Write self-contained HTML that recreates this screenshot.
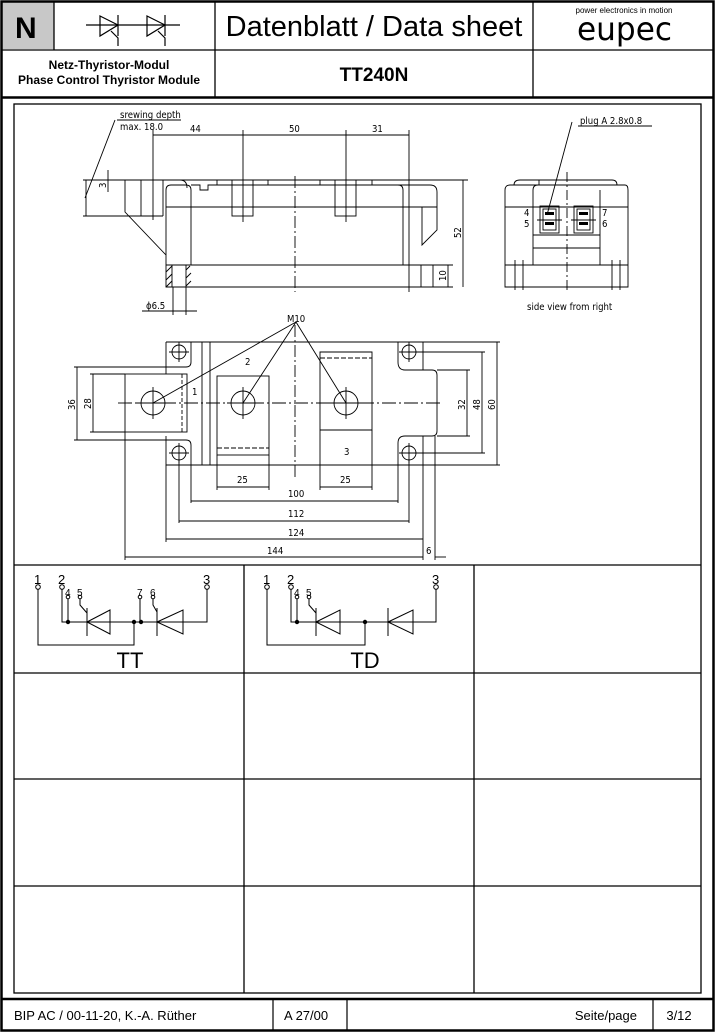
<!DOCTYPE html>
<html><head><meta charset="utf-8"><style>
html,body{margin:0;padding:0;background:#fff}
svg{display:block}
text{font-family:"Liberation Sans",sans-serif;fill:#000}
.d{font-family:"DejaVu Sans Condensed","DejaVu Sans",sans-serif;font-size:9.5px}
</style></head><body>
<svg width="715" height="1032" viewBox="0 0 715 1032" xmlns="http://www.w3.org/2000/svg">
<rect x="2" y="2" width="52" height="47" fill="#c8c8c8"/>
<rect x="1.5" y="1.5" width="712" height="1029" fill="none" stroke="#000" stroke-width="2.5"/>
<g stroke="#000" stroke-width="1.3" fill="none">
<line x1="1" y1="50" x2="714" y2="50"/>
<line x1="54" y1="1" x2="54" y2="50"/>
<line x1="215" y1="1" x2="215" y2="97"/>
<line x1="533" y1="1" x2="533" y2="97"/>
</g>
<line x1="1" y1="97.5" x2="714" y2="97.5" stroke="#000" stroke-width="2.5"/>
<text x="15" y="38" font-size="30" font-weight="bold">N</text>
<text x="374" y="36" font-size="29" text-anchor="middle">Datenblatt / Data sheet</text>
<text x="624" y="13" font-size="8" text-anchor="middle">power electronics in motion</text>
<text x="577" y="40" font-size="32" textLength="95" lengthAdjust="spacingAndGlyphs" style="font-family:'DejaVu Sans Condensed',sans-serif">eupec</text>
<text x="109" y="69" font-size="12" font-weight="bold" text-anchor="middle">Netz-Thyristor-Modul</text>
<text x="109" y="84" font-size="12" font-weight="bold" text-anchor="middle">Phase Control Thyristor Module</text>
<text x="374" y="81" font-size="19" font-weight="bold" text-anchor="middle">TT240N</text>
<g stroke="#000" stroke-width="1.2" fill="none">
<line x1="86" y1="25" x2="180" y2="25"/>
<path d="M100 16 L118 25 L100 36 Z"/><line x1="118" y1="15" x2="118" y2="36"/>
<path d="M111 31 L118 38 L118 46"/>
<path d="M147 16 L165 25 L147 36 Z"/><line x1="165" y1="15" x2="165" y2="36"/>
<path d="M158 31 L165 38 L165 46"/>
</g>
<g stroke="#000" stroke-width="1.3" fill="none">
<rect x="14" y="104" width="687" height="889"/>
<line x1="14" y1="565" x2="701" y2="565"/>
<line x1="14" y1="673" x2="701" y2="673"/>
<line x1="14" y1="779" x2="701" y2="779"/>
<line x1="14" y1="886" x2="701" y2="886"/>
<line x1="244" y1="565" x2="244" y2="993"/>
<line x1="474" y1="565" x2="474" y2="993"/>
</g>
<line x1="1" y1="999" x2="714" y2="999" stroke="#000" stroke-width="2.5"/>
<g stroke="#000" stroke-width="1.2"><line x1="273" y1="999" x2="273" y2="1031"/><line x1="347" y1="999" x2="347" y2="1031"/><line x1="653" y1="999" x2="653" y2="1031"/></g>
<text x="14" y="1020" font-size="13">BIP AC / 00-11-20, K.-A. Rüther</text>
<text x="284" y="1020" font-size="13">A 27/00</text>
<text x="637" y="1020" font-size="13" text-anchor="end">Seite/page</text>
<text x="679" y="1020" font-size="13" text-anchor="middle">3/12</text>

<g stroke="#000" stroke-width="0.9" fill="none">
<line x1="83" y1="180" x2="468" y2="180"/>
<line x1="83" y1="216" x2="125" y2="216"/>
<line x1="86" y1="180" x2="86" y2="216"/>
<path d="M125 180 V212 L166 255"/>
<path d="M125 180 H180 Q187 180 187 188"/>
<line x1="141" y1="180" x2="141" y2="216"/><line x1="163" y1="180" x2="163" y2="216"/><line x1="125" y1="216" x2="163" y2="216"/>
<path d="M166 265 V190 Q166 185 171 185 H186 Q191 185 191 190 V265"/>
<path d="M191 185 H200 V190 H208 V185 H398 Q403 185 403 190 V265"/>
<path d="M398 185 H430 Q437 185 437 192 V230 L422 245 V207"/>
<line x1="166" y1="207" x2="437" y2="207"/>
<line x1="166" y1="265" x2="453" y2="265"/>
<path d="M166 265 V287 H453"/>
<line x1="433" y1="265" x2="433" y2="287"/><line x1="421" y1="265" x2="421" y2="287"/>
<line x1="172" y1="265" x2="172" y2="287"/><line x1="186" y1="265" x2="186" y2="287"/>
<path d="M166 272 L172 266 M166 280 L172 274 M166 287 L172 281 M186 270 L190 266 M186 278 L191 273 M186 286 L191 281"/>
<path d="M217 185 V180 H268 V185"/><rect x="232" y="180" width="21" height="36"/>
<path d="M320 185 V180 H372 V185"/><rect x="335" y="180" width="21" height="36"/>
<line x1="153" y1="130" x2="153" y2="220"/>
<line x1="243" y1="130" x2="243" y2="222"/>
<line x1="346" y1="130" x2="346" y2="222"/>
<line x1="409" y1="130" x2="409" y2="292"/>
<line x1="153" y1="135" x2="409" y2="135"/>
<line x1="463" y1="180" x2="463" y2="287"/>
<line x1="448" y1="265" x2="448" y2="287"/>
<line x1="108" y1="170" x2="108" y2="192"/>
<line x1="115" y1="120" x2="85" y2="198"/>
<line x1="117" y1="120" x2="181" y2="120"/>
<line x1="173" y1="287" x2="173" y2="315"/><line x1="186" y1="287" x2="186" y2="315"/>
<line x1="142" y1="311" x2="197" y2="311"/>
<line x1="295" y1="176" x2="295" y2="292" stroke-dasharray="12 3 2 3"/>
</g>
<text class="d" x="120" y="118">srewing depth</text>
<text class="d" x="120" y="130">max. 18.0</text>
<text class="d" x="190" y="132">44</text>
<text class="d" x="289" y="132">50</text>
<text class="d" x="372" y="132">31</text>
<text class="d" x="146" y="309">ϕ6.5</text>
<text class="d" transform="translate(461,238) rotate(-90)">52</text>
<text class="d" transform="translate(446,281) rotate(-90)">10</text>
<text class="d" transform="translate(106,188) rotate(-90)">3</text>

<g stroke="#000" stroke-width="0.9" fill="none">
<path d="M505 287 V190 Q505 185 510 185 H625 Q628 185 628 190 V287 Z"/>
<path d="M514 185 Q514 180 520 180 H612 Q617 180 617 185"/>
<line x1="539" y1="180" x2="539" y2="185"/>
<line x1="505" y1="207" x2="628" y2="207"/>
<path d="M533 265 V190 Q533 185 538 185 M600 265 V190"/>
<line x1="533" y1="235" x2="600" y2="235"/><line x1="533" y1="248" x2="600" y2="248"/>
<line x1="505" y1="265" x2="628" y2="265"/>
<rect x="540" y="206" width="19" height="27"/><rect x="543" y="209" width="13" height="21"/>
<rect x="574" y="206" width="19" height="27"/><rect x="577" y="209" width="13" height="21"/>
<line x1="515" y1="260" x2="515" y2="290"/><line x1="523" y1="260" x2="523" y2="290"/>
<line x1="612" y1="260" x2="612" y2="290"/><line x1="620" y1="260" x2="620" y2="290"/>
<line x1="567" y1="172" x2="567" y2="292" stroke-dasharray="10 3 2 3"/>
<line x1="572" y1="122" x2="547" y2="215"/>
<line x1="578" y1="126" x2="652" y2="126"/>
<line x1="537" y1="220" x2="562" y2="220"/><line x1="571" y1="220" x2="596" y2="220"/>
</g>
<g fill="#000"><rect x="545" y="212" width="9" height="3"/><rect x="545" y="222" width="9" height="3"/><rect x="579" y="212" width="9" height="3"/><rect x="579" y="222" width="9" height="3"/></g>
<text class="d" x="580" y="124">plug  A 2.8x0.8</text>
<text class="d" x="524" y="216">4</text><text class="d" x="524" y="227">5</text>
<text class="d" x="602" y="216">7</text><text class="d" x="602" y="227">6</text>
<text class="d" x="527" y="310">side view from right</text>

<g stroke="#000" stroke-width="0.9" fill="none">
<path d="M166 342 H423 V370 H432 Q437 370 437 375 V431 Q437 436 432 436 H423 V465 H166 V436"/>
<path d="M166 374 V342"/>
<path d="M191 342 V362 Q191 367 186 367 H166"/>
<path d="M191 465 V445 Q191 440 186 440 H166"/>
<path d="M398 342 V362 Q398 370 405 370 H423"/>
<path d="M398 465 V443 Q398 436 405 436 H423"/>
<line x1="202" y1="342" x2="202" y2="465"/><line x1="210" y1="342" x2="210" y2="465"/>
<rect x="125" y="374" width="62" height="58"/>
<line x1="182" y1="374" x2="182" y2="432" stroke-dasharray="4 2"/>
<rect x="217" y="376" width="52" height="79"/>
<line x1="217" y1="448" x2="269" y2="448" stroke-dasharray="5 2"/>
<path d="M320 465 V352 H372 V430 H320"/>
<line x1="320" y1="358" x2="372" y2="358" stroke-dasharray="5 2"/>
<circle cx="153" cy="403" r="12"/><circle cx="243" cy="403" r="12"/><circle cx="346" cy="403" r="12"/>
<circle cx="179" cy="352" r="7"/><circle cx="179" cy="453" r="7"/><circle cx="409" cy="352" r="7"/><circle cx="409" cy="453" r="7"/>
<path d="M153 387 V419 M137 403 H169 M243 387 V419 M227 403 H259 M346 387 V419 M330 403 H362"/>
<path d="M179 342 V362 M169 352 H189 M179 443 V463 M169 453 H189 M409 342 V362 M399 352 H419 M409 443 V463 M399 453 H419"/>
<line x1="118" y1="403" x2="440" y2="403" stroke-dasharray="14 3 2 3"/>
<line x1="295" y1="325" x2="295" y2="478" stroke-dasharray="12 3 2 3"/>
<path d="M153 403 L296 322 L243 403 M296 322 L346 403"/>
<path d="M217 455 V490 M269 455 V490 M320 465 V490 M372 430 V490"/>
<line x1="217" y1="487" x2="269" y2="487"/><line x1="320" y1="487" x2="372" y2="487"/>
<path d="M191 465 V503 M398 465 V503"/><line x1="191" y1="501" x2="398" y2="501"/>
<path d="M179 460 V523 M409 460 V523"/><line x1="179" y1="521" x2="409" y2="521"/>
<path d="M166 465 V542 M423 465 V560"/><line x1="166" y1="539" x2="423" y2="539"/>
<path d="M125 432 V560 M435 436 V560"/><line x1="125" y1="557" x2="423" y2="557"/><line x1="435" y1="557" x2="446" y2="557"/>
<path d="M74 367 H166 M74 440 H166 M90 374 H125 M90 432 H125"/>
<line x1="77" y1="367" x2="77" y2="440"/><line x1="93" y1="374" x2="93" y2="432"/>
<path d="M437 370 H470 M437 436 H470 M409 352 H485 M409 453 H485 M423 342 H500 M423 465 H500"/>
<line x1="467" y1="370" x2="467" y2="436"/><line x1="482" y1="352" x2="482" y2="453"/><line x1="497" y1="342" x2="497" y2="465"/>
</g>
<text class="d" x="287" y="322">M10</text>
<text class="d" x="192" y="395">1</text>
<text class="d" x="245" y="365">2</text>
<text class="d" x="344" y="455">3</text>
<text class="d" x="237" y="483">25</text>
<text class="d" x="340" y="483">25</text>
<text class="d" x="288" y="497">100</text>
<text class="d" x="288" y="517">112</text>
<text class="d" x="288" y="536">124</text>
<text class="d" x="267" y="554">144</text>
<text class="d" x="426" y="554">6</text>
<text class="d" transform="translate(75,410) rotate(-90)">36</text>
<text class="d" transform="translate(91,409) rotate(-90)">28</text>
<text class="d" transform="translate(465,410) rotate(-90)">32</text>
<text class="d" transform="translate(480,410) rotate(-90)">48</text>
<text class="d" transform="translate(495,410) rotate(-90)">60</text>

<g stroke="#000" stroke-width="1" fill="none">
<circle cx="38" cy="587" r="2.3"/><circle cx="62" cy="587" r="2.3"/><circle cx="207" cy="587" r="2.3"/>
<circle cx="68" cy="597" r="1.8"/><circle cx="80" cy="597" r="1.8"/><circle cx="140" cy="597" r="1.8"/><circle cx="153" cy="597" r="1.8"/>
<path d="M38 589 V645 H134 V622"/>
<path d="M62 589 V622 H183"/>
<path d="M207 589 V622 H183"/>
<path d="M68 599 V622 M140 599 V622"/>
<path d="M80 599 V605 L87 613 M153 599 V605 L157 612"/>
<path d="M87 622 L110 610 V634 Z"/><line x1="87" y1="608" x2="87" y2="636"/>
<path d="M157 622 L183 610 V634 Z"/><line x1="157" y1="608" x2="157" y2="636"/>
</g>
<g fill="#000"><circle cx="68" cy="622" r="2.2"/><circle cx="134" cy="622" r="2.2"/><circle cx="141" cy="622" r="2.2"/></g>
<g font-size="13"><text x="34" y="584">1</text><text x="58" y="584">2</text><text x="203" y="584">3</text></g>
<g font-size="10"><text x="65" y="596">4</text><text x="77" y="596">5</text><text x="137" y="596">7</text><text x="150" y="596">6</text></g>
<text x="130" y="668" font-size="22" text-anchor="middle">TT</text>

<g stroke="#000" stroke-width="1" fill="none">
<circle cx="267" cy="587" r="2.3"/><circle cx="291" cy="587" r="2.3"/><circle cx="436" cy="587" r="2.3"/>
<circle cx="297" cy="597" r="1.8"/><circle cx="309" cy="597" r="1.8"/>
<path d="M267 589 V645 H365 V622"/>
<path d="M291 589 V622 H413"/>
<path d="M436 589 V622 H413"/>
<path d="M297 599 V622"/>
<path d="M309 599 V605 L316 613"/>
<path d="M316 622 L340 610 V634 Z"/><line x1="316" y1="608" x2="316" y2="636"/>
<path d="M388 622 L413 610 V634 Z"/><line x1="388" y1="608" x2="388" y2="636"/>
</g>
<g fill="#000"><circle cx="297" cy="622" r="2.2"/><circle cx="365" cy="622" r="2.2"/></g>
<g font-size="13"><text x="263" y="584">1</text><text x="287" y="584">2</text><text x="432" y="584">3</text></g>
<g font-size="10"><text x="294" y="596">4</text><text x="306" y="596">5</text></g>
<text x="365" y="668" font-size="22" text-anchor="middle">TD</text>
</svg>
</body></html>
